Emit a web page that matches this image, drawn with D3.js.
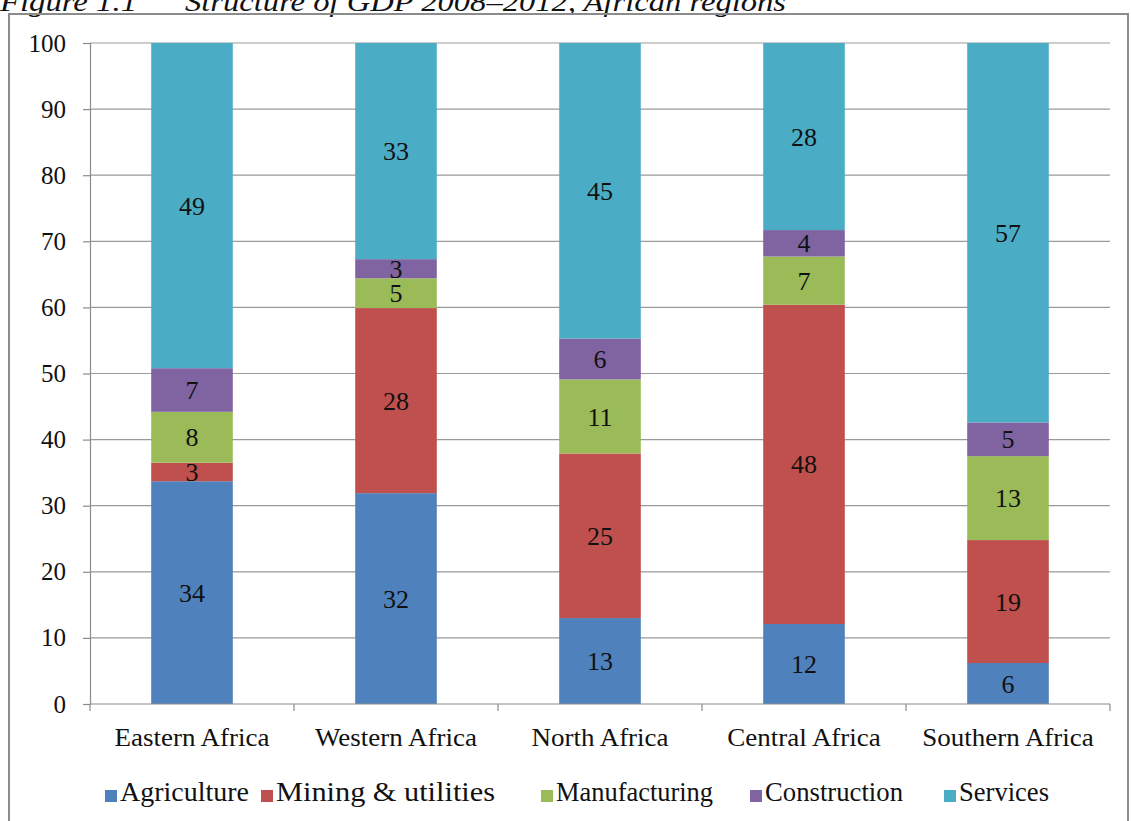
<!DOCTYPE html>
<html>
<head>
<meta charset="utf-8">
<script src="https://cdn.jsdelivr.net/npm/d3@7/dist/d3.min.js"></script>
<style>
  html, body { margin: 0; padding: 0; background: #ffffff; }
  svg { display: block; }
  svg text { font-family: "Liberation Serif", "Times New Roman", serif; fill: #111; }
</style>
</head>
<body>
<svg id="chart" width="1131" height="821"></svg>
<script>
// Regions along the x axis
const regions = ["Eastern Africa", "Western Africa", "North Africa", "Central Africa", "Southern Africa"];

// Sector shares of GDP (%), one value per region
const agriculture   = [33.7, 31.9, 13.0, 12.1, 6.2];
const mining        = [2.8, 28.0, 24.9, 48.3, 18.6];
const manufacturing = [7.7, 4.5, 11.2, 7.3, 12.7];
const construction  = [6.6, 2.9, 6.2, 4.0, 5.1];
const services      = [49.2, 32.7, 44.7, 28.3, 57.4];

const seriesNames  = ["Agriculture", "Mining & utilities", "Manufacturing", "Construction", "Services"];
const seriesColors = ["#4F81BD", "#C0504D", "#9BBB59", "#8064A2", "#4BACC6"];
const yTicks = [0, 10, 20, 30, 40, 50, 60, 70, 80, 90, 100];

const SERIF = "'Liberation Serif', 'Times New Roman', serif";

const seriesValues = [agriculture, mining, manufacturing, construction, services];
const keys = seriesNames;
const rows = regions.map((r, i) => {
  const o = { region: r };
  keys.forEach((k, j) => { o[k] = seriesValues[j][i]; });
  return o;
});

const svg = d3.select("#chart");

// Caption above the framed chart
const caption = svg.append("g")
  .style("font-family", SERIF)
  .style("font-style", "italic")
  .style("font-size", "28px");
caption.append("text").attr("x", 0).attr("y", 11)
  .attr("textLength", 137).attr("lengthAdjust", "spacingAndGlyphs")
  .text("Figure 1.1");
caption.append("text").attr("x", 185).attr("y", 11)
  .attr("textLength", 601).attr("lengthAdjust", "spacingAndGlyphs")
  .text("Structure of GDP 2008–2012, African regions");

// Chart frame
svg.append("rect")
  .attr("x", 9).attr("y", 14)
  .attr("width", 1119).attr("height", 830)
  .attr("fill", "none")
  .attr("stroke", "#8c8c8c")
  .attr("stroke-width", 2);

const plot = { left: 90, right: 1110, top: 43, bottom: 704 };

const x = d3.scaleBand().domain(regions).range([plot.left, plot.right]).padding(0);
const y = d3.scaleLinear().domain([0, 100]).range([plot.bottom, plot.top]);
const color = d3.scaleOrdinal().domain(keys).range(seriesColors);

// Horizontal gridlines
svg.append("g")
  .selectAll("line")
  .data(yTicks.filter(t => t > 0))
  .join("line")
  .attr("x1", plot.left).attr("x2", plot.right)
  .attr("y1", d => y(d)).attr("y2", d => y(d))
  .attr("stroke", "#9a9a9a").attr("stroke-width", 1.2);

// Y axis
const yAxis = svg.append("g")
  .attr("transform", `translate(${plot.left},0)`)
  .call(d3.axisLeft(y).tickValues(yTicks).tickSize(7).tickPadding(17));
yAxis.attr("font-family", null);
yAxis.selectAll("text")
  .style("font-family", SERIF)
  .style("font-size", "25px")
  .attr("fill", "#111");
yAxis.selectAll("line, path").attr("stroke", "#8c8c8c").attr("stroke-width", 1.2);

// Stacked bars
const stacked = d3.stack().keys(keys)(rows);
const barW = x.bandwidth() * 0.4;
const barOff = (x.bandwidth() - barW) / 2;

const layers = svg.append("g").selectAll("g")
  .data(stacked)
  .join("g")
  .attr("fill", d => color(d.key));

layers.selectAll("rect")
  .data(d => d)
  .join("rect")
  .attr("x", d => x(d.data.region) + barOff)
  .attr("width", barW)
  .attr("y", d => y(d[1]))
  .attr("height", d => y(d[0]) - y(d[1]));

// Value labels centred in each segment
layers.selectAll("text")
  .data(d => d.map(v => ({ v, key: d.key })))
  .join("text")
  .attr("x", d => x(d.v.data.region) + x.bandwidth() / 2)
  .attr("y", d => y((d.v[0] + d.v[1]) / 2))
  .attr("dy", "0.35em")
  .attr("text-anchor", "middle")
  .style("font-family", SERIF)
  .style("font-size", "26px")
  .attr("fill", "#111")
  .text(d => Math.round(d.v.data[d.key]));

// X axis with ticks at category boundaries
const xg = svg.append("g");
xg.append("line")
  .attr("x1", plot.left).attr("x2", plot.right)
  .attr("y1", plot.bottom).attr("y2", plot.bottom)
  .attr("stroke", "#8c8c8c").attr("stroke-width", 1.2);
xg.selectAll("line.tick")
  .data(regions.map(r => x(r)).concat([plot.right]))
  .join("line")
  .attr("class", "tick")
  .attr("x1", d => d).attr("x2", d => d)
  .attr("y1", plot.bottom).attr("y2", plot.bottom + 7)
  .attr("stroke", "#8c8c8c").attr("stroke-width", 1.2);
xg.selectAll("text")
  .data(regions)
  .join("text")
  .attr("transform", d => `translate(${x(d) + x.bandwidth() / 2},746) scale(1.08,1)`)
  .attr("text-anchor", "middle")
  .style("font-family", SERIF)
  .style("font-size", "25px")
  .text(d => d);

// Legend: swatch position and label width for each entry
const legendX = [105, 261, 541, 750, 944];
const legendW = [129, 219, 157, 138, 90];
const legend = svg.append("g").selectAll("g")
  .data(keys)
  .join("g")
  .attr("transform", (d, i) => `translate(${legendX[i]},792)`);
legend.append("rect")
  .attr("x", 0).attr("y", -2)
  .attr("width", 12).attr("height", 12)
  .attr("fill", d => color(d));
legend.append("text")
  .attr("x", 15)
  .attr("dy", "0.35em")
  .attr("textLength", (d, i) => legendW[i])
  .attr("lengthAdjust", "spacingAndGlyphs")
  .style("font-family", SERIF)
  .style("font-size", "27px")
  .text(d => d);
</script>
</body>
</html>
